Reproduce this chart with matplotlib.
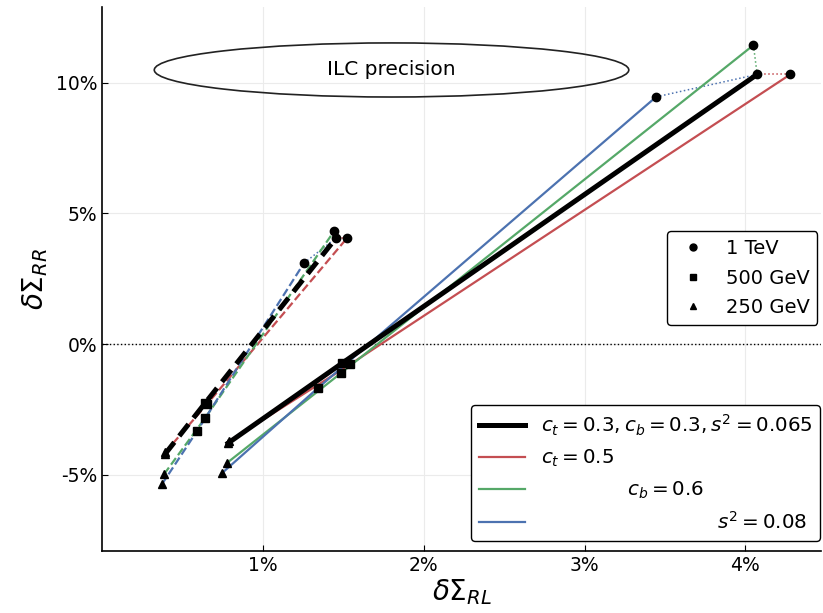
import matplotlib
matplotlib.use("Agg")
import matplotlib.pyplot as plt
from matplotlib.patches import Ellipse
from matplotlib.lines import Line2D

# energies: 250 GeV, 500 GeV, 1 TeV (values in %)
energies = ["250 GeV", "500 GeV", "1 TeV"]
markers = ["^", "s", "o"]

# solid set
solid_ref_x = [0.784, 1.491, 4.073]
solid_ref_y = [-3.79, -0.74, 10.32]
solid_ct_x = [0.790, 1.542, 4.279]
solid_ct_y = [-3.72, -0.78, 10.32]
solid_cb_x = [0.777, 1.486, 4.050]
solid_cb_y = [-4.55, -1.11, 11.44]
solid_s2_x = [0.746, 1.343, 3.445]
solid_s2_y = [-4.94, -1.68, 9.46]

# dashed set
dash_ref_x = [0.392, 0.641, 1.455]
dash_ref_y = [-4.21, -2.26, 4.06]
dash_ct_x = [0.392, 0.653, 1.524]
dash_ct_y = [-4.15, -2.30, 4.06]
dash_cb_x = [0.386, 0.641, 1.443]
dash_cb_y = [-4.98, -2.83, 4.32]
dash_s2_x = [0.373, 0.591, 1.256]
dash_s2_y = [-5.36, -3.33, 3.10]

labels = [r"$c_t = 0.3, c_b = 0.3, s^2 = 0.065$",
          r"$c_t = 0.5$",
          r"$\hspace{4.45}c_b = 0.6$",
          r"$\hspace{9.1}s^2 = 0.08$"]

RED = "#C44E52"
GREEN = "#55A868"
BLUE = "#4C72B0"

fig = plt.figure(figsize=(8.23, 6.13), dpi=100)
ax = fig.add_axes([102 / 823, 62 / 613, 719 / 823, 544 / 613])
ax.set_axisbelow(True)

ax.grid(True, color="#ebebeb", linewidth=0.8)
ax.axhline(0, color="black", linestyle=":", linewidth=1.0, zorder=1)

sets = [
    ((solid_ct_x, solid_ct_y), (solid_cb_x, solid_cb_y), (solid_s2_x, solid_s2_y), (solid_ref_x, solid_ref_y), "-"),
    ((dash_ct_x, dash_ct_y), (dash_cb_x, dash_cb_y), (dash_s2_x, dash_s2_y), (dash_ref_x, dash_ref_y), "--"),
]

for ct, cb, s2, ref, ls in sets:
    for (xs, ys), col in zip([ct, cb, s2], [RED, GREEN, BLUE]):
        ax.plot(xs, ys, color=col, linestyle=ls, linewidth=1.6, zorder=3)
        # dotted connector between 1 TeV points
        ax.plot([xs[-1], ref[0][-1]], [ys[-1], ref[1][-1]], color=col,
                linestyle=":", linewidth=1.1, zorder=2)
    ax.plot(ref[0], ref[1], color="black", linestyle=ls, linewidth=3.6,
            zorder=4, dashes=(3, 1.6) if ls == "--" else (None, None))
    for xs, ys in [ct, cb, s2, ref]:
        for i in range(3):
            ax.plot(xs[i], ys[i], marker=markers[i], color="black",
                    markersize=6, linestyle="none", zorder=5)

ell = Ellipse((1.8, 10.49), 2.95, 2.07, fill=False, edgecolor="#222222",
              linewidth=1.2, zorder=3)
ax.add_patch(ell)
ax.text(1.8, 10.52, "ILC precision", ha="center", va="center", fontsize=14.5)

ax.set_xlim(0, 4.47)
ax.set_ylim(-7.92, 12.9)
ax.set_xticks([1, 2, 3, 4])
ax.set_xticklabels(["1%", "2%", "3%", "4%"])
ax.set_yticks([-5, 0, 5, 10])
ax.set_yticklabels(["-5%", "0%", "5%", "10%"])
ax.tick_params(direction="in", length=4, labelsize=13.5, colors="black")
for s in ["top", "right"]:
    ax.spines[s].set_visible(False)
for s in ["left", "bottom"]:
    ax.spines[s].set_color("black")
    ax.spines[s].set_linewidth(1.2)

ax.set_xlabel(r"$\delta\Sigma_{RL}$", fontsize=20, labelpad=2)
ax.set_ylabel(r"$\delta\Sigma_{RR}$", fontsize=20, labelpad=4)

# marker legend
mk_handles = [Line2D([], [], marker=m, color="black", linestyle="none", markersize=5)
              for m in markers[::-1]]
leg1 = ax.legend(mk_handles, energies[::-1], loc="upper right",
                 bbox_to_anchor=(0.995, 0.588), borderaxespad=0, fontsize=14,
                 handlelength=1.8, labelspacing=0.55, framealpha=1,
                 edgecolor="black", fancybox=True)
leg1.get_frame().set_linewidth(1.0)
ax.add_artist(leg1)

ln_handles = [Line2D([], [], color="black", linewidth=3.6),
              Line2D([], [], color=RED, linewidth=1.6),
              Line2D([], [], color=GREEN, linewidth=1.6),
              Line2D([], [], color=BLUE, linewidth=1.6)]
leg2 = ax.legend(ln_handles, labels, loc="lower right",
                 bbox_to_anchor=(0.999, 0.018), borderaxespad=0, fontsize=14.3,
                 handlelength=2.3, labelspacing=0.52, framealpha=1,
                 edgecolor="black", fancybox=True)
leg2.get_frame().set_linewidth(1.0)

fig.savefig("out.png", dpi=100)
